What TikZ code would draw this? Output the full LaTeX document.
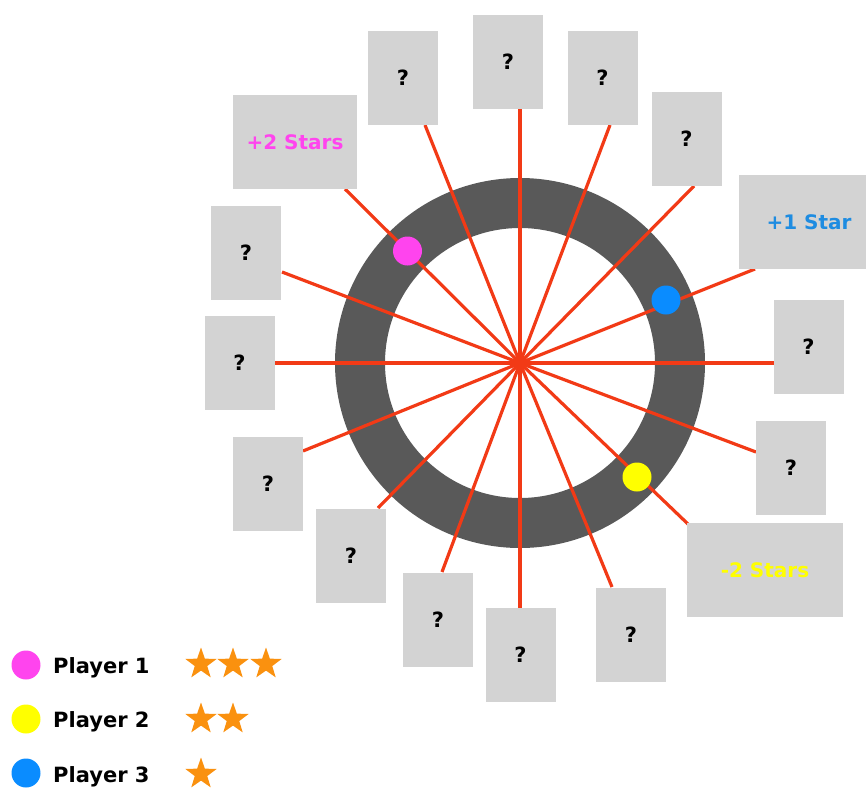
\documentclass[tikz,border=0pt]{standalone}
\usepackage{fontspec}
\setmainfont{DejaVu Sans}
\usetikzlibrary{shapes.geometric}
\definecolor{ringgray}{RGB}{89,89,89}
\definecolor{boxgray}{RGB}{211,211,211}
\definecolor{spokered}{RGB}{242,58,22}
\definecolor{pmag}{RGB}{255,68,238}
\definecolor{pyel}{RGB}{255,255,0}
\definecolor{pblue}{RGB}{10,140,255}
\definecolor{textblue}{RGB}{30,140,225}
\definecolor{starorange}{RGB}{250,145,15}
\begin{document}
\begin{tikzpicture}[x=1pt,y=-1pt,
  qbox/.style={rectangle,fill=boxgray,minimum width=70pt,minimum height=94pt,inner sep=0pt,
    font=\fontsize{21}{21}\selectfont\bfseries},
  wbox/.style={qbox,font=\fontsize{20}{20}\selectfont\bfseries},
  spoke/.style={draw=spokered,line width=3.2pt},
  dot/.style={circle,minimum size=29pt,inner sep=0pt},
  lab/.style={anchor=base west,inner sep=0pt,font=\fontsize{21}{21}\selectfont\bfseries},
  lstar/.style={star,star points=5,star point ratio=2.5,fill=starorange,minimum size=33pt,inner sep=0pt}]
\useasboundingbox (0,0) rectangle (866,787);
% wheel
\coordinate (c) at (520,363);
\fill[ringgray,even odd rule] (c) circle[radius=185] (c) circle[radius=135];
% spoke ends
\coordinate (e1) at (520,109);
\coordinate (e2) at (425,125);
\coordinate (e3) at (610,125);
\coordinate (e4) at (694,186);
\coordinate (e5) at (755,269);
\coordinate (e6) at (774,363);
\coordinate (e7) at (756,452);
\coordinate (e8) at (689,525);
\coordinate (e9) at (612,587);
\coordinate (e10) at (520,608);
\coordinate (e11) at (442,572);
\coordinate (e12) at (378,508);
\coordinate (e13) at (303,451);
\coordinate (e14) at (274,363);
\coordinate (e15) at (282,272);
\coordinate (e16) at (345,189);
\foreach \i in {1,...,16} \draw[spoke] (c) -- (e\i);
% player tokens on the ring
\node[dot,fill=pmag] (t1) at (407.5,251) {};
\node[dot,fill=pblue] (t3) at (666,300) {};
\node[dot,fill=pyel] (t2) at (637,477) {};
% boxes
\node[qbox] (b1) at (508,62) {?};
\node[qbox] (b2) at (403,78) {?};
\node[qbox] (b3) at (602.5,78) {?};
\node[qbox] (b4) at (686.5,139) {?};
\node[wbox,minimum width=140pt,text=textblue] (b5) at (809,222) {+1 Star};
\node[qbox] (b6) at (808.5,346.5) {?};
\node[qbox] (b7) at (791,468) {?};
\node[wbox,minimum width=156pt,text=pyel] (b8) at (765,570) {-2 Stars};
\node[qbox] (b9) at (631,634.5) {?};
\node[qbox] (b10) at (520.5,655) {?};
\node[qbox] (b11) at (438,619.5) {?};
\node[qbox] (b12) at (351,555.5) {?};
\node[qbox] (b13) at (268,484) {?};
\node[qbox] (b14) at (239.5,363) {?};
\node[qbox] (b15) at (246,253) {?};
\node[wbox,minimum width=124pt,text=pmag] (b16) at (295,142) {+2 Stars};
% legend
\node[dot,fill=pmag] (l1) at (26,665) {};
\node[dot,fill=pyel] (l2) at (26,719) {};
\node[dot,fill=pblue] (l3) at (26,773) {};
\node[lab] (n1) at (53,673) {Player 1};
\node[lab] (n2) at (53,727) {Player 2};
\node[lab] (n3) at (53,782) {Player 3};
\node[lstar] (s11) at (201,664) {};
\node[lstar] (s12) at (233,664) {};
\node[lstar] (s13) at (266,664) {};
\node[lstar] (s21) at (201,719) {};
\node[lstar] (s22) at (233,719) {};
\node[lstar] (s31) at (201,774) {};
\end{tikzpicture}
\end{document}
